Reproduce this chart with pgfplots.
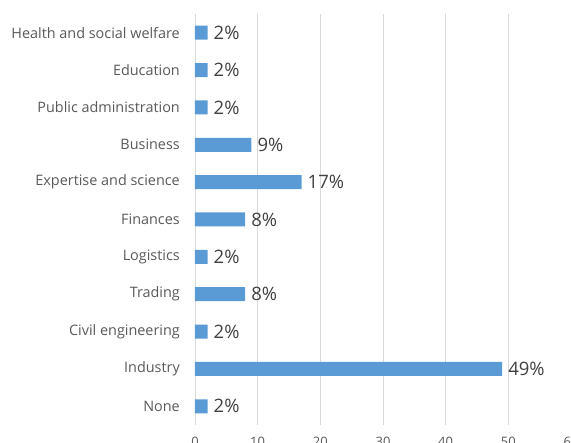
\documentclass[border=0pt]{standalone}
\usepackage{pgfplots}
\pgfplotsset{compat=1.18}
\usepackage{fontspec}
\setmainfont{Open Sans}
\definecolor{barblue}{HTML}{5B9BD5}
\definecolor{gridgray}{HTML}{D9D9D9}
\definecolor{labelgray}{HTML}{595959}
\definecolor{valuegray}{HTML}{404040}

\pgfplotstableread{
idx value
0  2
1  49
2  2
3  8
4  2
5  8
6  17
7  9
8  2
9  2
10 2
}\sectors

\begin{document}
\begin{tikzpicture}[x=1pt,y=1pt]
\path[use as bounding box] (0,0) rectangle (571,443);
\clip (0,0) rectangle (571,443);
\begin{axis}[
  at={(195pt,18pt)}, anchor=south west,
  scale only axis,
  width=376pt, height=411pt,
  xbar,
  bar width=14pt,
  xmin=0, xmax=60,
  ymin=-0.5, ymax=10.5,
  xtick={0,10,...,60},
  ytick={0,...,10},
  yticklabels={None, Industry, Civil engineering, Trading, Logistics, Finances, Expertise and science, Business, Public administration, Education, Health and social welfare},
  xmajorgrids,
  grid style={gridgray, line width=0.9pt},
  axis line style={draw=none},
  major tick length=0pt,
  tick style={draw=none},
  yticklabel style={font=\fontsize{14.4}{16}\selectfont, text=labelgray, inner sep=0pt, xshift=-15pt},
  xticklabel style={font=\fontsize{13}{15}\selectfont, text=labelgray, inner sep=0pt, yshift=-12pt},
  /pgf/number format/assume math mode=true,
  nodes near coords={\pgfmathprintnumber{\pgfplotspointmeta}\%},
  nodes near coords style={font=\fontsize{18.5}{20}\selectfont, text=valuegray, anchor=west, inner sep=0pt, xshift=6pt},
  point meta=x,
]
\addplot[fill=barblue, draw=none] table[x=value, y=idx] {\sectors};
\end{axis}
\end{tikzpicture}
\end{document}
